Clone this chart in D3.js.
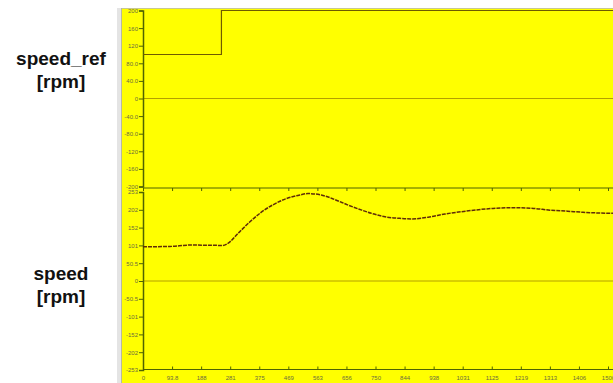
<!DOCTYPE html>
<html>
<head>
<meta charset="utf-8">
<script src="https://cdn.jsdelivr.net/npm/d3@7"></script>
<style>
  body { margin: 0; background: #fff; }
  svg { display: block; }
</style>
</head>
<body>
<div id="chart"></div>
<script>
// speed_ref step signal
const refTime = [0, 253, 253, 1560];
const refValue = [100, 100, 200, 200];

// measured speed
const speedTime = [0, 87, 152, 258, 274, 310, 345, 380, 419, 460, 506, 532, 575, 619, 660, 706, 745, 781, 825, 868, 920, 974, 1050, 1129, 1206, 1260, 1313, 1370, 1419, 1470, 1516];
const speedValue = [97, 98, 102, 101, 107, 138, 168, 194, 216, 233, 244, 248, 244, 231, 216, 201, 190, 182, 178, 176, 181, 190, 199, 206, 208, 206, 201, 198, 195, 193, 192];

const xTicks = [0, 93.75, 187.5, 281.25, 375, 468.75, 562.5, 656.25, 750, 843.75, 937.5, 1031.25, 1125, 1218.75, 1312.5, 1406.25, 1500];
const xTickLabels = ["0", "93.8", "188", "281", "375", "469", "563", "656", "750", "844", "938", "1031", "1125", "1219", "1313", "1406", "1500"];

const refTicks = [200, 160, 120, 80, 40, 0, -40, -80, -120, -160, -200];
const refTickLabels = ["200", "160", "120", "80.0", "40.0", "0", "-40.0", "-80.0", "-120", "-160", "-200"];

const speedTicks = [252.5, 202, 151.5, 101, 50.5, 0, -50.5, -101, -151.5, -202, -252.5];
const speedTickLabels = ["253", "202", "152", "101", "50.5", "0", "-50.5", "-101", "-152", "-202", "-253"];

const W = 613, H = 383;
const svg = d3.select("#chart").append("svg").attr("width", W).attr("height", H);

// yellow area and grey left strip
svg.append("rect").attr("x", 117).attr("y", 8).attr("width", 5).attr("height", H - 8).attr("fill", "#e4e4e4");
svg.append("rect").attr("x", 122).attr("y", 8).attr("width", W - 122).attr("height", H - 8).attr("fill", "#ffff00");
svg.append("line").attr("x1", 121.5).attr("x2", 121.5).attr("y1", 8).attr("y2", H).attr("stroke", "#b8b8a0");
svg.append("line").attr("x1", 122).attr("x2", W).attr("y1", 8.5).attr("y2", 8.5).attr("stroke", "#c8c890");

const x = d3.scaleLinear().domain([0, 1500]).range([143, 608]);
const yRef = d3.scaleLinear().domain([-200, 200]).range([186.5, 10.5]);
const ySpeed = d3.scaleLinear().domain([-252.5, 252.5]).range([370, 192]);

const axisColor = "#4f6300";
const labelColor = "#6b6b40";

function minorTicks(step, lo, hi) {
    const out = [];
    for (let v = lo; v <= hi + 1e-9; v += step) out.push(v);
    return out;
}

function yAxis(scale, ticks, labels, minorStep) {
    const g = svg.append("g").attr("transform", "translate(143,0)");
    const d = scale.domain();
    g.call(d3.axisLeft(scale).tickValues(minorTicks(minorStep, d[0], d[1])).tickSize(2).tickFormat(""));
    g.call(d3.axisLeft(scale).tickValues(ticks).tickSize(4).tickPadding(1)
        .tickFormat((v, i) => labels[i]));
    g.selectAll("path, line").attr("stroke", axisColor);
    g.select(".domain").attr("stroke-width", 1.5);
    g.selectAll("text").attr("fill", labelColor).style("font-family", "Liberation Sans, Arial, sans-serif").style("font-size", "6px");
}

function xAxis(yPos, withLabels) {
    const g = svg.append("g").attr("transform", "translate(0," + yPos + ")");
    g.call(d3.axisBottom(x).tickValues(minorTicks(23.4375, 0, 1560)).tickSize(withLabels ? -2 : 2).tickFormat("").tickSizeOuter(0));
    g.call(d3.axisBottom(x).tickValues(xTicks).tickSize(withLabels ? -3 : 3).tickSizeOuter(0)
        .tickPadding(withLabels ? 6 : 0)
        .tickFormat((v, i) => withLabels ? xTickLabels[i] : ""));
    g.selectAll("path, line").attr("stroke", axisColor);
    g.select(".domain").attr("d", "M143,0H" + W);
    g.selectAll("text").attr("fill", labelColor).style("font-family", "Liberation Sans, Arial, sans-serif").style("font-size", "6px");
}

// zero lines
svg.append("line").attr("x1", 143).attr("x2", W).attr("y1", yRef(0)).attr("y2", yRef(0)).attr("stroke", "#b4a000").attr("stroke-width", 1);
svg.append("line").attr("x1", 143).attr("x2", W).attr("y1", ySpeed(0)).attr("y2", ySpeed(0)).attr("stroke", "#b4a000").attr("stroke-width", 1);

yAxis(yRef, refTicks, refTickLabels, 10);
yAxis(ySpeed, speedTicks, speedTickLabels, 12.625);
xAxis(188, false);
xAxis(369.5, true);

// series
svg.append("path")
    .datum(refTime.map((t, i) => [t, refValue[i]]))
    .attr("fill", "none")
    .attr("stroke", "#6e5a00")
    .attr("stroke-width", 1.2)
    .attr("d", d3.line().x(d => x(d[0])).y(d => yRef(d[1])));

svg.append("path")
    .datum(speedTime.map((t, i) => [t, speedValue[i]]))
    .attr("fill", "none")
    .attr("stroke", "#5e2c08")
    .attr("stroke-width", 1.5)
    .attr("stroke-dasharray", "4,1")
    .attr("d", d3.line().curve(d3.curveMonotoneX).x(d => x(d[0])).y(d => ySpeed(d[1])));

// panel titles
function title(lines, cy) {
    lines.forEach((s, i) => svg.append("text")
        .attr("text-anchor", "middle").attr("x", 61).attr("y", cy + i * 23)
        .style("font-family", "'Liberation Sans', Arial, sans-serif")
        .style("font-size", "19px").style("font-weight", "bold")
        .attr("fill", "#111").text(s));
}
title(["speed_ref", "[rpm]"], 65);
title(["speed", "[rpm]"], 280);
</script>
</body>
</html>
